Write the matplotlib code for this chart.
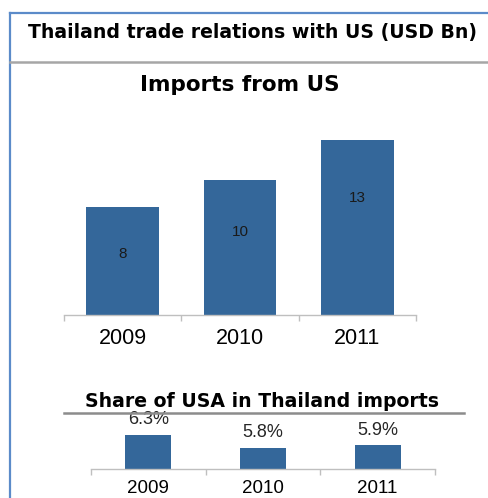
import matplotlib
matplotlib.use("Agg")
import matplotlib.pyplot as plt
from matplotlib.lines import Line2D

plt.rcParams['font.family'] = ['Liberation Sans', 'DejaVu Sans']

# Data
years = ["2009", "2010", "2011"]
imports_usd_bn = [8, 10, 13]
share_pct = [6.3, 5.8, 5.9]

W, H = 488, 498
DPI = 100
BAR = "#34679A"
FRAME = "#5B8BC9"
AXIS = "#BFBFBF"
HEAD = ["DejaVu Sans"]

fig = plt.figure(figsize=(W / DPI, H / DPI), dpi=DPI)
fig.patch.set_facecolor("white")


def px_axes(x0, x1, y_top, y_bottom):
    """Add axes from pixel coordinates (origin top-left)."""
    return fig.add_axes([x0 / W, 1 - y_bottom / H, (x1 - x0) / W, (y_bottom - y_top) / H])


def px_line(xs, ys, **kw):
    fig.add_artist(Line2D([x / W for x in xs], [1 - y / H for y in ys],
                          transform=fig.transFigure, **kw))


def px_text(x, y, s, **kw):
    fig.text(x / W, 1 - y / H, s, ha="center", va="center", **kw)


# Panel frame and header separator
px_line([9.5, 9.5], [13, H], color=FRAME, lw=1.6)
px_line([9.5, W], [13, 13], color=FRAME, lw=1.6)
px_line([10, W], [62, 62], color="#A6A6A6", lw=1.8)

px_text(253, 32.5, "Thailand trade relations with US (USD Bn)", fontsize=13.6,
        fontweight="bold", family=HEAD)


def style_axes(ax):
    for s in ("top", "right", "left"):
        ax.spines[s].set_visible(False)
    ax.spines["bottom"].set_color(AXIS)
    ax.spines["bottom"].set_linewidth(1.0)
    ax.set_yticks([])
    ax.set_xlim(-0.5, 2.5)
    ax.set_xticks(range(len(years)))
    ax.set_xticklabels(years)
    ax.set_xticks([-0.5, 0.5, 1.5, 2.5], minor=True)
    ax.tick_params(axis="x", which="major", length=0)
    ax.tick_params(axis="x", which="minor", length=4, color=AXIS, width=1.0, direction="out")
    ax.patch.set_alpha(0)


# Imports from US
ax1 = px_axes(64, 416, 126, 315)
ax1.set_ylim(0, 14)
ax1.bar(range(len(years)), imports_usd_bn, width=0.62, color=BAR, zorder=2)
style_axes(ax1)
ax1.tick_params(axis="x", which="major", labelsize=15.5, pad=9)
for i, v in enumerate(imports_usd_bn):
    ax1.text(i, 0.834 * v - 2.17, f"{v}", ha="center", va="center", fontsize=11, color="#1a1a1a")
px_text(240, 85, "Imports from US", fontsize=15.5, fontweight="bold", family=HEAD)

# Share of USA in Thailand imports
ax2 = px_axes(91, 435, 427, 469)
ax2.set_ylim(5.0, 6.6)
ax2.bar(range(len(years)), share_pct, width=0.4, color=BAR, zorder=2)
style_axes(ax2)
ax2.tick_params(axis="x", which="major", labelsize=13.5, pad=8)
for i, v in enumerate(share_pct):
    ax2.annotate(f"{v}%", (i, v), xytext=(0, 11), textcoords="offset points",
                 ha="center", va="center", fontsize=13, color="#262626")
px_text(262, 401, "Share of USA in Thailand imports", fontsize=13.6, fontweight="bold", family=HEAD)
px_line([64, 464], [413, 413], color="#8C8C8C", lw=1.8)

fig.savefig("out.png", dpi=DPI)
